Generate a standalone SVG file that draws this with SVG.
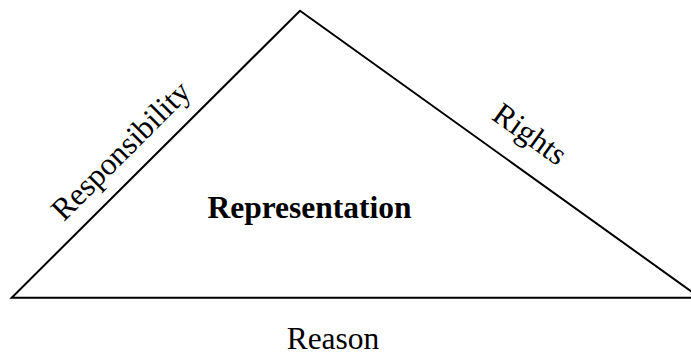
<svg xmlns="http://www.w3.org/2000/svg" width="691" height="356" viewBox="0 0 691 356">
<style>
.edge{fill:none;stroke:#000;stroke-width:2;stroke-linejoin:miter}
.lbl{font-family:"Liberation Serif","Times New Roman",serif;font-size:31.5px;fill:#000;text-anchor:middle}
.b{font-weight:bold}
</style>
<rect width="691" height="356" fill="#fff"/>
<g id="connectors">
<polygon class="edge" points="11.7,297.7 300,10.7 700,297.7"/>
</g>
<g id="responsibility"><text class="lbl" transform="translate(128,158) rotate(-45)">Responsibility</text></g>
<g id="rights"><text class="lbl" transform="translate(524,142.5) rotate(35.7)">Rights</text></g>
<g id="representation"><text class="lbl b" x="309.5" y="218">Representation</text></g>
<g id="reason"><text class="lbl" x="333" y="349">Reason</text></g>
</svg>
